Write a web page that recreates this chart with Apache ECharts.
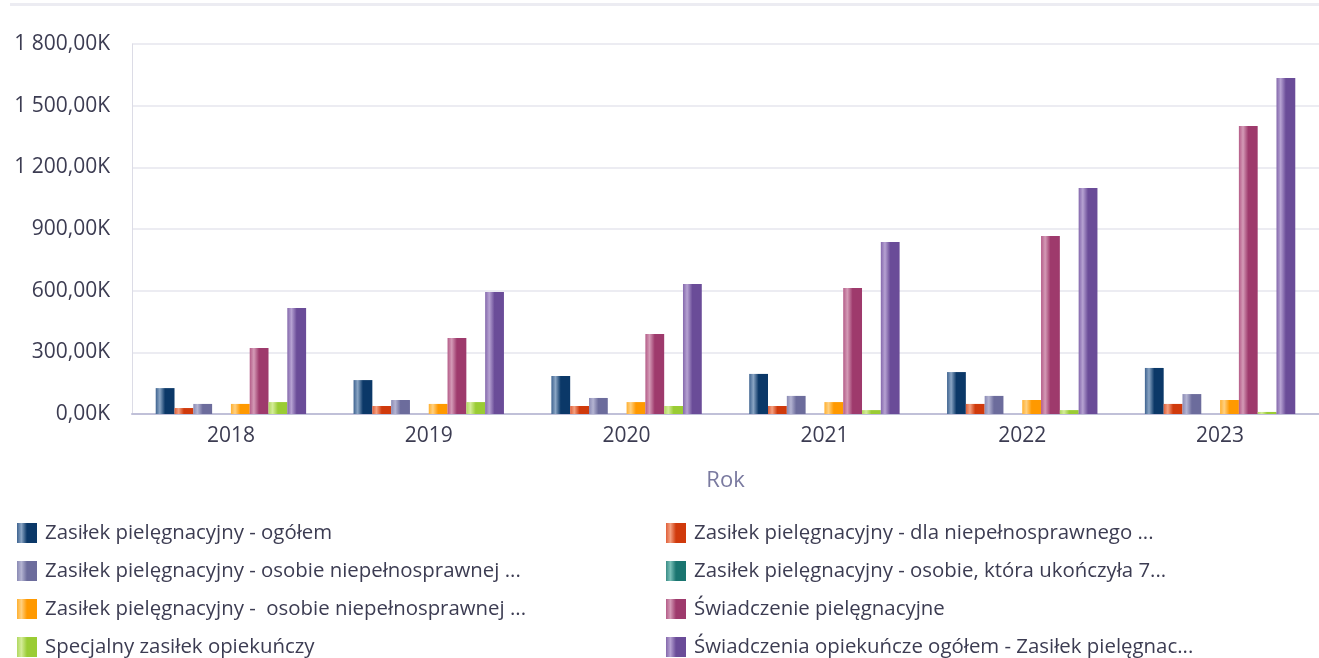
<!DOCTYPE html>
<html>
<head>
<meta charset="utf-8">
<script src="https://cdn.jsdelivr.net/npm/echarts@6/dist/echarts.min.js"></script>
<style>
  html, body { margin: 0; padding: 0; background: #fff; }
  #chart { width: 1319px; height: 658px; }
</style>
</head>
<body>
<div id="chart"></div>
<script>
// lata
var years = ['2018', '2019', '2020', '2021', '2022', '2023']

// wartosci w tys. (K)
var ogolem = [126, 165, 185, 195, 204, 224]
var dlaNiepelnosprawnego = [29, 39, 39, 39, 49, 49]
var osobieNiepelnosprawnej = [49, 68, 78, 88, 88, 97]
var osobieKtoraUkonczyla = [null, null, null, null, null, null]
var osobieNiepelnosprawnej2 = [49, 49, 58, 58, 68, 68]
var swiadczeniePiel = [321, 370, 389, 613, 866, 1401]
var specjalnyZasilek = [58, 58, 39, 19, 19, 10]
var swiadczeniaOgolem = [516, 593, 632, 837, 1099, 1634]

var names = [
  'Zasiłek pielęgnacyjny - ogółem',
  'Zasiłek pielęgnacyjny - dla niepełnosprawnego ...',
  'Zasiłek pielęgnacyjny - osobie niepełnosprawnej ...',
  'Zasiłek pielęgnacyjny - osobie, która ukończyła 7...',
  'Zasiłek pielęgnacyjny -  osobie niepełnosprawnej ...',
  'Świadczenie pielęgnacyjne',
  'Specjalny zasiłek opiekuńczy',
  'Świadczenia opiekuńcze ogółem - Zasiłek pielęgnac...'
]
var values = [ogolem, dlaNiepelnosprawnego, osobieNiepelnosprawnej, osobieKtoraUkonczyla,
  osobieNiepelnosprawnej2, swiadczeniePiel, specjalnyZasilek, swiadczeniaOgolem]

// [brzeg, jasny pasek, kolor bazowy]
var colors = [
  ['#3e6390', '#8aa5c4', '#0b3868'],
  ['#e0603a', '#f4a080', '#d03a0c'],
  ['#8a8ab4', '#b4b4d2', '#6c6c9c'],
  ['#3a8c86', '#7ac0b8', '#1a7570'],
  ['#ffb030', '#ffd080', '#ff9900'],
  ['#b45c88', '#d49ab6', '#9e3a6c'],
  ['#b0d860', '#d4ec98', '#9acc34'],
  ['#8468ac', '#b6a2d2', '#6a4c98']
]

function grad(c) {
  return new echarts.graphic.LinearGradient(0, 0, 1, 0, [
    { offset: 0, color: c[0] },
    { offset: 0.22, color: c[1] },
    { offset: 0.5, color: c[2] },
    { offset: 1, color: c[2] }
  ])
}

function fmt(v) {
  var s = v.toFixed(2).split('.')
  var i = s[0].replace(/\B(?=(\d{3})+(?!\d))/g, ' ')
  return i + ',' + s[1] + 'K'
}

var font = '"Open Sans", "Noto Sans", sans-serif'

var series = names.map(function(n, i) {
  return {
    name: n,
    type: 'bar',
    barWidth: 18.8,
    barGap: 0,
    itemStyle: { color: grad(colors[i]) },
    data: values[i]
  }
})

var legendBase = {
  orient: 'vertical',
  top: 523,
  height: 140,
  padding: 0,
  icon: 'rect',
  itemWidth: 20,
  itemHeight: 20,
  itemGap: 18,
  textStyle: { fontSize: 20.4, color: '#3c3c52', fontFamily: font, lineHeight: 20, padding: [0, 0, 0, 3] }
}

var chart = echarts.init(document.getElementById('chart'))
chart.setOption({
  animation: false,
  textStyle: { fontFamily: font },
  graphic: [
    { type: 'rect', left: 10, top: 3, shape: { width: 1309, height: 3 }, style: { fill: '#ececf2' } }
  ],
  grid: { left: 132, right: -17, top: 44, bottom: 244 },
  legend: [
    Object.assign({}, legendBase, { left: 17, data: [names[0], names[2], names[4], names[6]] }),
    Object.assign({}, legendBase, { left: 666, data: [names[1], names[3], names[5], names[7]] })
  ],
  xAxis: {
    type: 'category',
    data: years,
    name: 'Rok',
    nameLocation: 'middle',
    nameGap: 56,
    nameTextStyle: { fontSize: 22, color: '#7a7aa0', fontFamily: font },
    axisLine: { lineStyle: { color: '#c0c0d8', width: 2 } },
    axisTick: { show: false },
    axisLabel: { fontSize: 21, color: '#3c3c52', margin: 12, fontFamily: font }
  },
  yAxis: {
    type: 'value',
    min: 0,
    max: 1800,
    interval: 300,
    axisLine: { show: true, lineStyle: { color: '#dcdce6', width: 1 } },
    axisTick: { show: false },
    axisLabel: { fontSize: 21, color: '#3c3c52', margin: 22, formatter: fmt, fontFamily: font },
    splitLine: { lineStyle: { color: '#ececf2', width: 2 } }
  },
  series: series
})
</script>
</body>
</html>
